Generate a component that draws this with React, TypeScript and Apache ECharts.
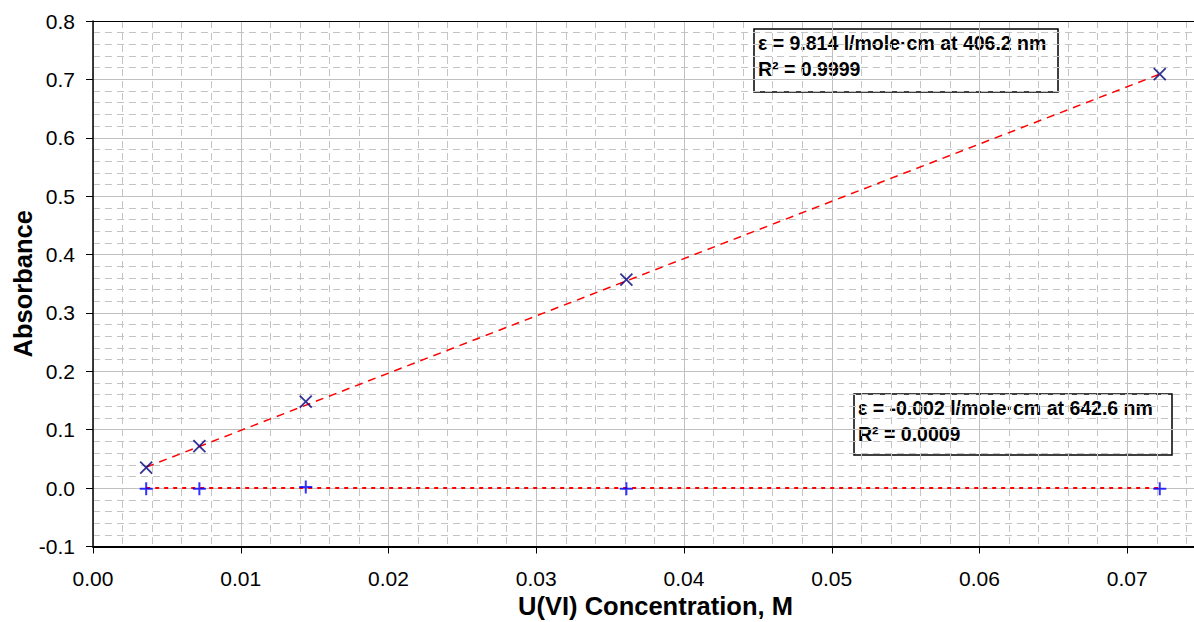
import React, { useEffect, useRef } from "react";
import * as echarts from "echarts";

const concentrations = [0.0036, 0.0072, 0.0144, 0.0361, 0.0722];
const abs406 = [0.035, 0.072, 0.148, 0.357, 0.709];
const abs642 = [-0.001, -0.001, 0.002, -0.001, -0.001];
const trend406 = [[0.0036, 0.036], [0.0722, 0.709]];
const trend642 = [[0.0036, 0.0], [0.0722, 0.0]];
const note406 = ["ε = 9.814 l/mole·cm at 406.2 nm", "R² = 0.9999"];
const note642 = ["ε = -0.002 l/mole·cm at 642.6 nm", "R² = 0.0009"];

const FONT = "'Liberation Sans', Arial, sans-serif";

function noteBox(x: number, y: number, w: number, h: number, lines: string[]) {
  return {
    type: "group",
    x,
    y,
    children: [
      { type: "rect", shape: { x: 0, y: 0, width: w, height: h }, style: { fill: "#ffffff", stroke: "#000000", lineWidth: 1.5 } },
      { type: "text", x: 4, y: 14, style: { text: lines[0], font: `bold 19.5px ${FONT}`, fill: "#000", verticalAlign: "middle" } },
      { type: "text", x: 4, y: 40, style: { text: lines[1], font: `bold 19.5px ${FONT}`, fill: "#000", verticalAlign: "middle" } },
    ],
  };
}

export default function App() {
  const ref = useRef<HTMLDivElement>(null);
  useEffect(() => {
    document.body.style.margin = "0";
    const chart = echarts.init(ref.current!, null, { renderer: "svg" });
    const xSym = "path://M0,0L10,10M0,10L10,0";
    const pSym = "path://M5,0L5,10M0,5L10,5";
    chart.setOption({
      animation: false,
      backgroundColor: "#ffffff",
      textStyle: { fontFamily: FONT },
      grid: { left: 93, top: 21, right: 1, bottom: 75.5, containLabel: false, outerBoundsMode: "none" },
      xAxis: [
        {
          type: "value",
          min: 0,
          max: 0.08,
          interval: 0.01,
          name: "U(VI) Concentration, M",
          nameLocation: "middle",
          nameGap: 46,
          nameMoveOverlap: false,
          nameTextStyle: { fontSize: 25.5, fontWeight: "bold", color: "#000", fontFamily: FONT, padding: [0, 57, 0, 0] },
          axisLine: { show: true, onZero: false, lineStyle: { color: "#000", width: 2 } },
          axisTick: { show: true, length: 7, lineStyle: { color: "#000", width: 1 } },
          axisLabel: { fontSize: 21, color: "#000", fontFamily: FONT, margin: 21, showMaxLabel: false, formatter: (v: number) => v.toFixed(2) },
          splitLine: { show: true, lineStyle: { color: "#c0c0c0", width: 1 } },
          minorTick: { show: false, splitNumber: 5 },
          minorSplitLine: { show: true, lineStyle: { color: "#c4c4c4", width: 1, type: [7, 5] } },
        },
        {
          type: "value",
          min: 0,
          max: 0.08,
          position: "top",
          axisLine: { show: true, onZero: false, lineStyle: { color: "#000", width: 1 } },
          axisTick: { show: false },
          axisLabel: { show: false },
          splitLine: { show: false },
        },
      ],
      yAxis: {
        type: "value",
        min: -0.1,
        max: 0.8,
        interval: 0.1,
        name: "Absorbance",
        nameLocation: "middle",
        nameGap: 57,
        nameMoveOverlap: false,
        nameRotate: 90,
        nameTextStyle: { fontSize: 25.5, fontWeight: "bold", color: "#000", fontFamily: FONT },
        axisLine: { show: true, onZero: false, lineStyle: { color: "#000", width: 1.5 } },
        axisTick: { show: true, length: 7, lineStyle: { color: "#000", width: 1 } },
        axisLabel: { fontSize: 21, color: "#000", fontFamily: FONT, margin: 18, formatter: (v: number) => v.toFixed(1) },
        splitLine: { show: true, lineStyle: { color: "#c0c0c0", width: 1 } },
        minorTick: { show: false, splitNumber: 5 },
        minorSplitLine: { show: true, lineStyle: { color: "#c4c4c4", width: 1, type: [7, 5] } },
      },
      series: [
        {
          name: "trend406",
          type: "line",
          data: trend406,
          symbol: "none",
          silent: true,
          lineStyle: { color: "#ff0000", width: 1.5, type: [8, 6] },
          z: 2,
        },
        {
          name: "trend642",
          type: "line",
          data: trend642,
          symbol: "none",
          silent: true,
          lineStyle: { color: "#ff0000", width: 2, type: [4, 5] },
          z: 2,
        },
        {
          name: "406.2 nm",
          type: "scatter",
          data: concentrations.map((c, i) => [c, abs406[i]]),
          symbol: xSym,
          symbolSize: 12,
          itemStyle: { color: "rgba(0,0,0,0)", borderColor: "#000080", borderWidth: 1.8 },
          z: 3,
        },
        {
          name: "642.6 nm",
          type: "scatter",
          data: concentrations.map((c, i) => [c, abs642[i]]),
          symbol: pSym,
          symbolSize: 13,
          itemStyle: { color: "rgba(0,0,0,0)", borderColor: "#0000ff", borderWidth: 2 },
          z: 3,
        },
      ],
      graphic: [noteBox(754, 29, 304, 63, note406), noteBox(854, 394, 318, 61, note642)],
    });
    return () => chart.dispose();
  }, []);
  return (
    <div style={{ width: 1194, height: 622, overflow: "hidden", position: "relative" }}>
      <div ref={ref} style={{ width: 1276, height: 622 }} />
    </div>
  );
}
